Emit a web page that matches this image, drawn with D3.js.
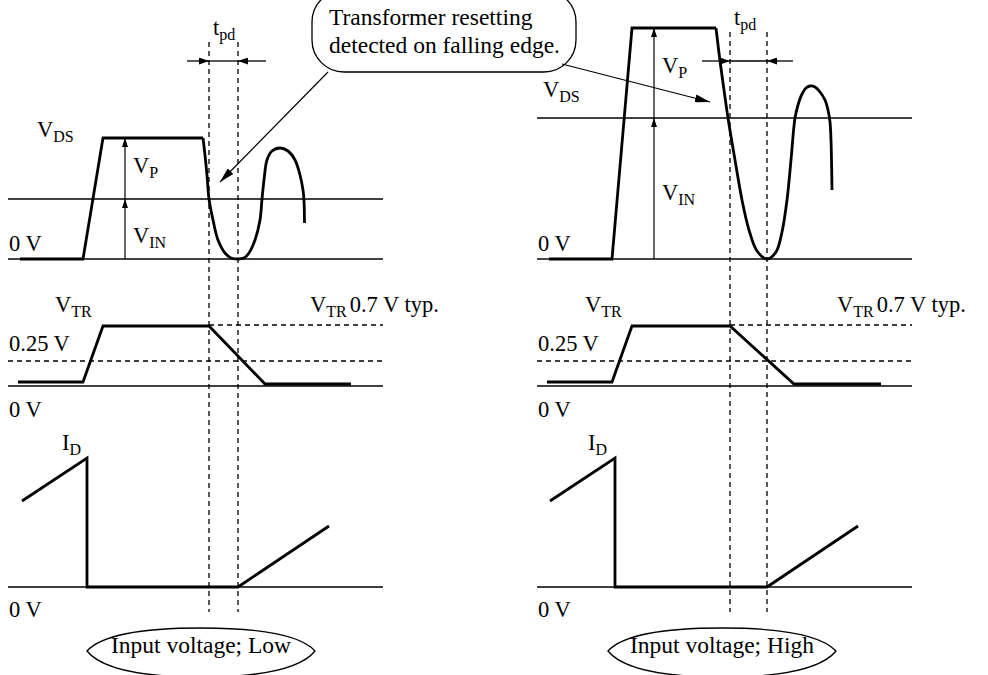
<!DOCTYPE html>
<html><head><meta charset="utf-8">
<script src="https://cdn.jsdelivr.net/npm/d3@7/dist/d3.min.js"></script>
<style>
html,body{margin:0;padding:0;background:#fff}
svg{display:block}
text{font-family:"Liberation Serif","Times New Roman",Times,serif;fill:#000}
</style>
</head><body>
<svg id="c" width="988" height="675"></svg>
<script>
// ---------------- DATA (time units, level units) ----------------
const panelNames = ["Input voltage; Low", "Input voltage; High"];
const calloutLines = ["Transformer resetting", "detected on falling edge."];

// V_DS : switching edge (linear) and ringing (smooth)
const vdsEdgeLow  = [[12,0],[75,0],[95,121],[195,121]];
const vdsRingLow  = [[195,121],[197,104],[199,84],[201,60],[205,39],[210,19],[217,6],[223,1],[230,0],[236,1],[241,6],[247,19],[252,39],[254,60],[256,79],[259,99],[264,108],[272,111],[280,108],[287,99],[292,84],[295,69],[296,58],[296.5,36]];
const vdsEdgeHigh = [[12,0],[75,0],[95,231],[179,231]];
const vdsRingHigh = [[179,231],[183,198],[187,169],[191,141],[198,99],[205,59],[212,29],[220,8],[230,0],[239,7],[245,27],[250,59],[254,99],[258,141],[261,154],[265,165],[269,171],[273,173],[278,172],[283,167],[288,159],[291,149],[293,137],[294,119],[294.5,99],[295,69]];
const vinLevels = [60, 141];      // V_IN level
const vpTopLevels = [121, 231];   // V_IN + V_P level
const tpdLow  = [201, 230];       // dashed markers (start, end)
const tpdHigh = [193, 230];

// V_TR
const vtrLow  = [[10,4],[75,4],[95,60],[201,60],[257,2],[343,2]];
const vtrHigh = [[10,4],[75,4],[95,60],[193,60],[257,2],[344,2]];
const vtrThreshold = 25;   // 0.25 V
const vtrTypical   = 61;   // V_TR 0.7 V typ.

// I_D
const idLow  = [[14,86],[79,129],[79,0],[230,0],[321,61]];
const idHigh = [[13,86],[78,129],[78,0],[230,0],[321,61]];

// ---------------- DRAWING ----------------
const svg = d3.select("#c");
const defs = svg.append("defs");
function marker(id, w, h){
  defs.append("marker").attr("id",id).attr("markerUnits","userSpaceOnUse")
    .attr("markerWidth",w).attr("markerHeight",h).attr("refX",w).attr("refY",h/2)
    .attr("orient","auto").append("path")
    .attr("d",`M0,0L${w},${h/2}L0,${h}Z`).attr("fill","#000");
}
marker("aS", 9, 6);
marker("aM", 10, 7);
marker("aL", 15, 8);

const yVDS = d3.scaleLinear().domain([0,259]).range([259,0]);
const yVTR = d3.scaleLinear().domain([0,100]).range([386,286]);
const yID  = d3.scaleLinear().domain([0,150]).range([587,437]);
const PW = 375;

const FS = 22.5, SUB = 16;
function label(g, x, y, main, sub, rest, size){
  const t = g.append("text").attr("x",x).attr("y",y).attr("font-size",size||FS);
  t.append("tspan").text(main);
  if (sub) t.append("tspan").attr("font-size",SUB).attr("dy",5).text(sub);
  if (rest) t.append("tspan").attr("font-size",size||FS).attr("dy",sub?-5:0).attr("dx",3).text(rest);
  return t;
}

const panels = [
  {x0:8,   edge:vdsEdgeLow,  ring:vdsRingLow,  vin:vinLevels[0], top:vpTopLevels[0], tpd:tpdLow,
   vtr:vtrLow, id:idLow, name:panelNames[0], arrowT:117, vdsLbl:[29,137], vpLbl:173, vinLbl:243,
   tpdLbl:35, dashTop:42, tpdExt:[22,28], vtrLbl:47, idLbl:54, lensC:193, typLbl:302},
  {x0:537, edge:vdsEdgeHigh, ring:vdsRingHigh, vin:vinLevels[1], top:vpTopLevels[1], tpd:tpdHigh,
   vtr:vtrHigh, id:idHigh, name:panelNames[1], arrowT:117, vdsLbl:[6,97], vpLbl:73, vinLbl:200,
   tpdLbl:25, dashTop:32, tpdExt:[28,26], vtrLbl:48, idLbl:51, lensC:185, typLbl:300}
];

panels.forEach(p => {
  const g = svg.append("g");
  const x = d3.scaleLinear().domain([0,PW]).range([p.x0, p.x0+PW]);
  const lineV = d3.line().x(d=>x(d[0])).y(d=>yVDS(d[1]));
  const lineVs = d3.line().x(d=>x(d[0])).y(d=>yVDS(d[1])).curve(d3.curveCatmullRom.alpha(0.5));
  const lineT = d3.line().x(d=>x(d[0])).y(d=>yVTR(d[1]));
  const lineI = d3.line().x(d=>x(d[0])).y(d=>yID(d[1]));

  // ---- V_DS section ----
  g.append("line").attr("x1",x(0)).attr("x2",x(PW)).attr("y1",yVDS(0)).attr("y2",yVDS(0))
    .attr("stroke","#444").attr("stroke-width",2);
  g.append("line").attr("x1",x(0)).attr("x2",x(PW)).attr("y1",yVDS(p.vin)).attr("y2",yVDS(p.vin))
    .attr("stroke","#000").attr("stroke-width",1.3);
  p.tpd.forEach(t => {
    g.append("line").attr("x1",x(t)).attr("x2",x(t)).attr("y1",p.dashTop).attr("y2",yID(-25))
      .attr("stroke","#000").attr("stroke-width",1.3).attr("stroke-dasharray","5,4");
  });
  const ya = yVDS(198);
  g.append("line").attr("x1",x(p.tpd[0])).attr("x2",x(p.tpd[1])).attr("y1",ya).attr("y2",ya)
    .attr("stroke","#000").attr("stroke-width",1.3);
  g.append("line").attr("x1",x(p.tpd[0]-p.tpdExt[0])).attr("x2",x(p.tpd[0])).attr("y1",ya).attr("y2",ya)
    .attr("stroke","#000").attr("stroke-width",1.3).attr("marker-end","url(#aM)");
  g.append("line").attr("x1",x(p.tpd[1]+p.tpdExt[1])).attr("x2",x(p.tpd[1])).attr("y1",ya).attr("y2",ya)
    .attr("stroke","#000").attr("stroke-width",1.3).attr("marker-end","url(#aM)");
  label(g, x(p.tpd[0])+4, p.tpdLbl, "t", "pd");

  g.append("line").attr("x1",x(p.arrowT)).attr("x2",x(p.arrowT)).attr("y1",yVDS(0)).attr("y2",yVDS(p.vin))
    .attr("stroke","#000").attr("stroke-width",1.2).attr("marker-end","url(#aS)");
  g.append("line").attr("x1",x(p.arrowT)).attr("x2",x(p.arrowT)).attr("y1",yVDS(p.vin)).attr("y2",yVDS(p.top))
    .attr("stroke","#000").attr("stroke-width",1.2).attr("marker-end","url(#aS)");

  g.append("path").attr("d",lineV(p.edge)).attr("fill","none").attr("stroke","#000")
    .attr("stroke-width",2.8).attr("stroke-linejoin","miter");
  g.append("path").attr("d",lineVs(p.ring)).attr("fill","none").attr("stroke","#000")
    .attr("stroke-width",2.8);

  label(g, x(p.vdsLbl[0]), p.vdsLbl[1], "V", "DS");
  label(g, x(p.arrowT)+8, p.vpLbl, "V", "P");
  label(g, x(p.arrowT)+8, p.vinLbl, "V", "IN");
  label(g, x(0)+1, 251, "0 V");

  // ---- V_TR section ----
  g.append("line").attr("x1",x(0)).attr("x2",x(PW)).attr("y1",yVTR(0)).attr("y2",yVTR(0))
    .attr("stroke","#000").attr("stroke-width",1.4);
  g.append("line").attr("x1",x(0)).attr("x2",x(PW)).attr("y1",yVTR(vtrThreshold)).attr("y2",yVTR(vtrThreshold))
    .attr("stroke","#000").attr("stroke-width",1.3).attr("stroke-dasharray","5,4");
  g.append("line").attr("x1",x(p.tpd[0])).attr("x2",x(PW)).attr("y1",yVTR(vtrTypical)).attr("y2",yVTR(vtrTypical))
    .attr("stroke","#000").attr("stroke-width",1.3).attr("stroke-dasharray","5,4");
  g.append("path").attr("d",lineT(p.vtr)).attr("fill","none").attr("stroke","#000").attr("stroke-width",2.8);
  label(g, x(p.vtrLbl), 312, "V", "TR");
  label(g, x(p.typLbl), 312, "V", "TR", "0.7 V typ.");
  label(g, x(0)+1, 351, "0.25 V");
  label(g, x(0)+1, 417, "0 V");

  // ---- I_D section ----
  g.append("line").attr("x1",x(0)).attr("x2",x(PW)).attr("y1",yID(0)).attr("y2",yID(0))
    .attr("stroke","#000").attr("stroke-width",1.3);
  g.append("path").attr("d",lineI(p.id)).attr("fill","none").attr("stroke","#000")
    .attr("stroke-width",2.8).attr("stroke-linejoin","miter");
  label(g, x(p.idLbl), 450, "I", "D");
  label(g, x(0)+1, 617, "0 V");

  // ---- lens label ----
  const cx = x(p.lensC), cy = 651, hw = 114, rT = 23, rB = 26;
  const k1 = 0.12*hw, k2 = 0.55*hw, f = 0.65;
  g.append("path")
    .attr("d",`M${cx-hw},${cy} C${cx-hw+k1},${cy-f*rT} ${cx-k2},${cy-rT} ${cx},${cy-rT}`+
              ` C${cx+k2},${cy-rT} ${cx+hw-k1},${cy-f*rT} ${cx+hw},${cy}`+
              ` C${cx+hw-k1},${cy+f*rB} ${cx+k2},${cy+rB} ${cx},${cy+rB}`+
              ` C${cx-k2},${cy+rB} ${cx-hw+k1},${cy+f*rB} ${cx-hw},${cy} Z`)
    .attr("fill","none").attr("stroke","#000").attr("stroke-width",1.3);
  g.append("text").attr("x",cx).attr("y",653).attr("text-anchor","middle")
    .attr("font-size",23.5).text(p.name);
});

// ---- callout bubble ----
const bub = svg.append("g");
bub.append("rect").attr("x",312).attr("y",-10).attr("width",264).attr("height",82).attr("rx",32).attr("ry",32)
  .attr("fill","#fff").attr("stroke","#000").attr("stroke-width",1.3);
calloutLines.forEach((s,i) => {
  bub.append("text").attr("x",329).attr("y",25 + i*28).attr("font-size",23.5).text(s);
});
const xL = d3.scaleLinear().domain([0,PW]).range([8,8+PW]);
const xR = d3.scaleLinear().domain([0,PW]).range([537,537+PW]);
bub.append("line").attr("x1",328).attr("y1",72).attr("x2",xL(212)).attr("y2",yVDS(77))
  .attr("stroke","#000").attr("stroke-width",1.2).attr("marker-end","url(#aL)");
bub.append("line").attr("x1",562).attr("y1",64).attr("x2",xR(173)).attr("y2",yVDS(157))
  .attr("stroke","#000").attr("stroke-width",1.2).attr("marker-end","url(#aL)");
</script>
</body></html>
